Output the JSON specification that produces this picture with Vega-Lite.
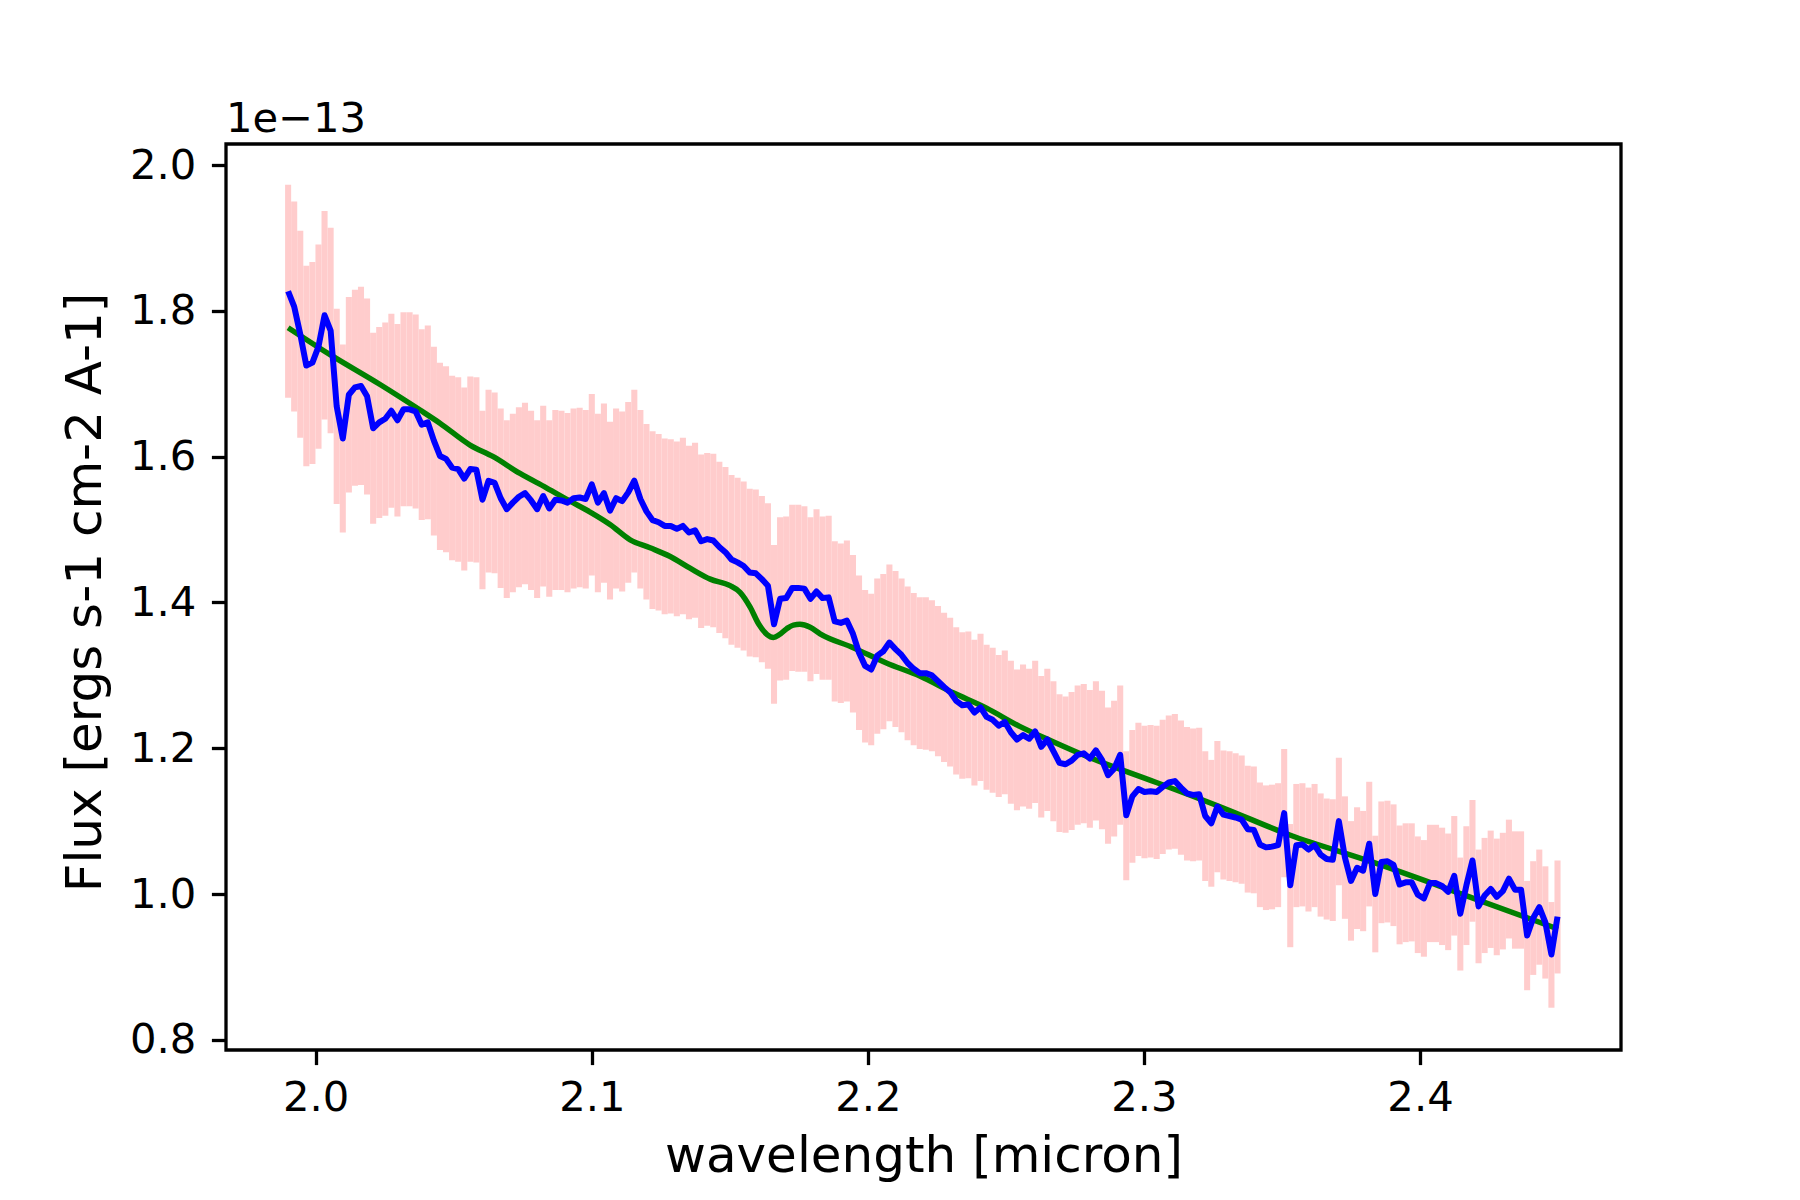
{
"$schema":"https://vega.github.io/schema/vega-lite/v6.json",
"width":1395,"height":906,
"autosize":{"type":"none"},
"padding":{"left":226,"top":144,"right":179,"bottom":150},
"background":"white",
"config":{"view":{"stroke":"black","strokeWidth":3.3},"font":"DejaVu Sans",
"axis":{"domain":false,"grid":false,"tickColor":"black","tickWidth":3.3,"tickSize":14.6,"labelFontSize":41.7,"labelColor":"black","labelFont":"DejaVu Sans","titleFont":"DejaVu Sans","titleFontSize":50,"titleFontWeight":"normal","titleColor":"black"}},
"title":{"text":"1e−13","anchor":"start","frame":"group","fontSize":41.7,"font":"DejaVu Sans","fontWeight":"normal","color":"black","baseline":"alphabetic","offset":13,"dy":43},
"datasets":{
"spec":[
{"w":1.99,"lo":1.681,"hi":1.973,"flux":1.827},{"w":1.9922,"lo":1.662,"hi":1.950,"flux":1.806},{"w":1.9944,"lo":1.626,"hi":1.910,"flux":1.768},{"w":1.9966,"lo":1.587,"hi":1.862,"flux":1.725},{"w":1.9988,"lo":1.590,"hi":1.867,"flux":1.729},{"w":2.001,"lo":1.611,"hi":1.891,"flux":1.751},{"w":2.0032,"lo":1.651,"hi":1.937,"flux":1.794},{"w":2.0054,"lo":1.632,"hi":1.914,"flux":1.773},{"w":2.0076,"lo":1.535,"hi":1.803,"flux":1.669},{"w":2.0098,"lo":1.496,"hi":1.754,"flux":1.625},
{"w":2.012,"lo":1.551,"hi":1.819,"flux":1.685},{"w":2.0142,"lo":1.560,"hi":1.829,"flux":1.695},{"w":2.0164,"lo":1.561,"hi":1.833,"flux":1.697},{"w":2.0186,"lo":1.548,"hi":1.817,"flux":1.683},{"w":2.0208,"lo":1.508,"hi":1.770,"flux":1.639},{"w":2.023,"lo":1.516,"hi":1.778,"flux":1.647},{"w":2.0252,"lo":1.519,"hi":1.784,"flux":1.652},{"w":2.0274,"lo":1.530,"hi":1.796,"flux":1.663},{"w":2.0296,"lo":1.518,"hi":1.782,"flux":1.650},{"w":2.0318,"lo":1.532,"hi":1.798,"flux":1.665},
{"w":2.034,"lo":1.532,"hi":1.798,"flux":1.665},{"w":2.0362,"lo":1.529,"hi":1.795,"flux":1.662},{"w":2.0384,"lo":1.513,"hi":1.775,"flux":1.644},{"w":2.0406,"lo":1.514,"hi":1.780,"flux":1.647},{"w":2.0428,"lo":1.492,"hi":1.751,"flux":1.622},{"w":2.045,"lo":1.472,"hi":1.729,"flux":1.601},{"w":2.0472,"lo":1.469,"hi":1.724,"flux":1.597},{"w":2.0494,"lo":1.458,"hi":1.711,"flux":1.585},{"w":2.0516,"lo":1.456,"hi":1.709,"flux":1.583},{"w":2.0538,"lo":1.444,"hi":1.695,"flux":1.570},
{"w":2.056,"lo":1.456,"hi":1.710,"flux":1.583},{"w":2.0582,"lo":1.455,"hi":1.709,"flux":1.582},{"w":2.0604,"lo":1.418,"hi":1.663,"flux":1.541},{"w":2.0626,"lo":1.441,"hi":1.692,"flux":1.567},{"w":2.0648,"lo":1.440,"hi":1.688,"flux":1.564},{"w":2.067,"lo":1.420,"hi":1.666,"flux":1.543},{"w":2.0692,"lo":1.406,"hi":1.650,"flux":1.528},{"w":2.0714,"lo":1.414,"hi":1.659,"flux":1.537},{"w":2.0736,"lo":1.421,"hi":1.668,"flux":1.545},{"w":2.0758,"lo":1.425,"hi":1.674,"flux":1.550},
{"w":2.078,"lo":1.417,"hi":1.663,"flux":1.540},{"w":2.0802,"lo":1.406,"hi":1.650,"flux":1.528},{"w":2.0824,"lo":1.422,"hi":1.670,"flux":1.546},{"w":2.0846,"lo":1.408,"hi":1.650,"flux":1.529},{"w":2.0868,"lo":1.417,"hi":1.664,"flux":1.541},{"w":2.089,"lo":1.417,"hi":1.663,"flux":1.540},{"w":2.0912,"lo":1.414,"hi":1.660,"flux":1.537},{"w":2.0934,"lo":1.419,"hi":1.666,"flux":1.543},{"w":2.0956,"lo":1.421,"hi":1.667,"flux":1.544},{"w":2.0978,"lo":1.419,"hi":1.664,"flux":1.542},
{"w":2.1,"lo":1.437,"hi":1.686,"flux":1.562},{"w":2.1022,"lo":1.414,"hi":1.659,"flux":1.537},{"w":2.1044,"lo":1.427,"hi":1.673,"flux":1.550},{"w":2.1066,"lo":1.404,"hi":1.648,"flux":1.526},{"w":2.1088,"lo":1.419,"hi":1.666,"flux":1.543},{"w":2.111,"lo":1.415,"hi":1.662,"flux":1.539},{"w":2.1132,"lo":1.427,"hi":1.675,"flux":1.551},{"w":2.1154,"lo":1.441,"hi":1.692,"flux":1.567},{"w":2.1176,"lo":1.419,"hi":1.664,"flux":1.542},{"w":2.1198,"lo":1.404,"hi":1.645,"flux":1.525},
{"w":2.122,"lo":1.391,"hi":1.635,"flux":1.513},{"w":2.1242,"lo":1.389,"hi":1.631,"flux":1.510},{"w":2.1264,"lo":1.384,"hi":1.625,"flux":1.505},{"w":2.1286,"lo":1.385,"hi":1.624,"flux":1.505},{"w":2.1308,"lo":1.381,"hi":1.621,"flux":1.501},{"w":2.133,"lo":1.384,"hi":1.626,"flux":1.505},{"w":2.1352,"lo":1.377,"hi":1.615,"flux":1.496},{"w":2.1374,"lo":1.379,"hi":1.619,"flux":1.499},{"w":2.1396,"lo":1.365,"hi":1.603,"flux":1.484},{"w":2.1418,"lo":1.368,"hi":1.605,"flux":1.487},
{"w":2.144,"lo":1.366,"hi":1.604,"flux":1.485},{"w":2.1462,"lo":1.358,"hi":1.593,"flux":1.476},{"w":2.1484,"lo":1.351,"hi":1.586,"flux":1.469},{"w":2.1506,"lo":1.342,"hi":1.575,"flux":1.459},{"w":2.1528,"lo":1.338,"hi":1.571,"flux":1.455},{"w":2.155,"lo":1.334,"hi":1.566,"flux":1.450},{"w":2.1572,"lo":1.326,"hi":1.556,"flux":1.441},{"w":2.1594,"lo":1.325,"hi":1.555,"flux":1.440},{"w":2.1616,"lo":1.318,"hi":1.546,"flux":1.432},{"w":2.1638,"lo":1.309,"hi":1.536,"flux":1.423},
{"w":2.166,"lo":1.261,"hi":1.479,"flux":1.370},{"w":2.1682,"lo":1.293,"hi":1.517,"flux":1.405},{"w":2.1704,"lo":1.294,"hi":1.518,"flux":1.406},{"w":2.1726,"lo":1.306,"hi":1.534,"flux":1.420},{"w":2.1748,"lo":1.305,"hi":1.534,"flux":1.420},{"w":2.177,"lo":1.305,"hi":1.532,"flux":1.419},{"w":2.1792,"lo":1.292,"hi":1.517,"flux":1.405},{"w":2.1814,"lo":1.302,"hi":1.528,"flux":1.415},{"w":2.1836,"lo":1.294,"hi":1.518,"flux":1.406},{"w":2.1858,"lo":1.294,"hi":1.519,"flux":1.407},
{"w":2.188,"lo":1.264,"hi":1.484,"flux":1.374},{"w":2.1902,"lo":1.262,"hi":1.481,"flux":1.372},{"w":2.1924,"lo":1.264,"hi":1.485,"flux":1.375},{"w":2.1946,"lo":1.249,"hi":1.465,"flux":1.357},{"w":2.1968,"lo":1.225,"hi":1.437,"flux":1.331},{"w":2.199,"lo":1.208,"hi":1.417,"flux":1.313},{"w":2.2012,"lo":1.204,"hi":1.412,"flux":1.308},{"w":2.2034,"lo":1.220,"hi":1.433,"flux":1.327},{"w":2.2056,"lo":1.226,"hi":1.439,"flux":1.333},{"w":2.2078,"lo":1.237,"hi":1.452,"flux":1.345},
{"w":2.21,"lo":1.229,"hi":1.443,"flux":1.336},{"w":2.2122,"lo":1.222,"hi":1.433,"flux":1.328},{"w":2.2144,"lo":1.211,"hi":1.422,"flux":1.317},{"w":2.2166,"lo":1.204,"hi":1.413,"flux":1.309},{"w":2.2188,"lo":1.199,"hi":1.407,"flux":1.303},{"w":2.221,"lo":1.198,"hi":1.407,"flux":1.303},{"w":2.2232,"lo":1.196,"hi":1.403,"flux":1.300},{"w":2.2254,"lo":1.189,"hi":1.395,"flux":1.292},{"w":2.2276,"lo":1.181,"hi":1.386,"flux":1.284},{"w":2.2298,"lo":1.175,"hi":1.379,"flux":1.277},
{"w":2.232,"lo":1.164,"hi":1.366,"flux":1.265},{"w":2.2342,"lo":1.158,"hi":1.359,"flux":1.259},{"w":2.2364,"lo":1.159,"hi":1.360,"flux":1.260},{"w":2.2386,"lo":1.149,"hi":1.349,"flux":1.249},{"w":2.2408,"lo":1.155,"hi":1.357,"flux":1.256},{"w":2.243,"lo":1.143,"hi":1.342,"flux":1.243},{"w":2.2452,"lo":1.139,"hi":1.338,"flux":1.239},{"w":2.2474,"lo":1.133,"hi":1.328,"flux":1.231},{"w":2.2496,"lo":1.137,"hi":1.334,"flux":1.236},{"w":2.2518,"lo":1.124,"hi":1.320,"flux":1.222},
{"w":2.254,"lo":1.115,"hi":1.308,"flux":1.212},{"w":2.2562,"lo":1.120,"hi":1.315,"flux":1.218},{"w":2.2584,"lo":1.117,"hi":1.309,"flux":1.213},{"w":2.2606,"lo":1.125,"hi":1.320,"flux":1.223},{"w":2.2628,"lo":1.105,"hi":1.299,"flux":1.202},{"w":2.265,"lo":1.114,"hi":1.309,"flux":1.212},{"w":2.2672,"lo":1.100,"hi":1.292,"flux":1.196},{"w":2.2694,"lo":1.085,"hi":1.274,"flux":1.180},{"w":2.2716,"lo":1.084,"hi":1.271,"flux":1.178},{"w":2.2738,"lo":1.088,"hi":1.277,"flux":1.183},
{"w":2.276,"lo":1.095,"hi":1.286,"flux":1.191},{"w":2.2782,"lo":1.097,"hi":1.288,"flux":1.193},{"w":2.2804,"lo":1.091,"hi":1.280,"flux":1.186},{"w":2.2826,"lo":1.101,"hi":1.292,"flux":1.197},{"w":2.2848,"lo":1.089,"hi":1.279,"flux":1.184},{"w":2.287,"lo":1.069,"hi":1.256,"flux":1.163},{"w":2.2892,"lo":1.079,"hi":1.265,"flux":1.172},{"w":2.2914,"lo":1.095,"hi":1.286,"flux":1.191},{"w":2.2936,"lo":1.019,"hi":1.196,"flux":1.108},{"w":2.2958,"lo":1.043,"hi":1.225,"flux":1.134},
{"w":2.298,"lo":1.052,"hi":1.235,"flux":1.144},{"w":2.3002,"lo":1.049,"hi":1.231,"flux":1.140},{"w":2.3024,"lo":1.050,"hi":1.232,"flux":1.141},{"w":2.3046,"lo":1.048,"hi":1.231,"flux":1.140},{"w":2.3068,"lo":1.055,"hi":1.239,"flux":1.147},{"w":2.309,"lo":1.061,"hi":1.245,"flux":1.153},{"w":2.3112,"lo":1.062,"hi":1.247,"flux":1.155},{"w":2.3134,"lo":1.054,"hi":1.238,"flux":1.146},{"w":2.3156,"lo":1.046,"hi":1.229,"flux":1.138},{"w":2.3178,"lo":1.045,"hi":1.227,"flux":1.136},
{"w":2.32,"lo":1.046,"hi":1.228,"flux":1.137},{"w":2.3222,"lo":1.018,"hi":1.196,"flux":1.107},{"w":2.3244,"lo":1.010,"hi":1.184,"flux":1.097},{"w":2.3266,"lo":1.030,"hi":1.210,"flux":1.120},{"w":2.3288,"lo":1.020,"hi":1.197,"flux":1.109},{"w":2.331,"lo":1.018,"hi":1.196,"flux":1.107},{"w":2.3332,"lo":1.016,"hi":1.193,"flux":1.105},{"w":2.3354,"lo":1.014,"hi":1.190,"flux":1.102},{"w":2.3376,"lo":1.002,"hi":1.176,"flux":1.089},{"w":2.3398,"lo":1.001,"hi":1.175,"flux":1.088},
{"w":2.342,"lo":0.982,"hi":1.153,"flux":1.068},{"w":2.3442,"lo":0.978,"hi":1.149,"flux":1.064},{"w":2.3464,"lo":0.979,"hi":1.150,"flux":1.065},{"w":2.3486,"lo":0.982,"hi":1.152,"flux":1.067},{"w":2.3508,"lo":1.023,"hi":1.199,"flux":1.111},{"w":2.353,"lo":0.927,"hi":1.096,"flux":1.012},{"w":2.3552,"lo":0.982,"hi":1.151,"flux":1.067},{"w":2.3574,"lo":0.983,"hi":1.152,"flux":1.068},{"w":2.3596,"lo":0.976,"hi":1.146,"flux":1.061},{"w":2.3618,"lo":0.982,"hi":1.151,"flux":1.067},
{"w":2.364,"lo":0.969,"hi":1.138,"flux":1.054},{"w":2.3662,"lo":0.965,"hi":1.131,"flux":1.048},{"w":2.3684,"lo":0.963,"hi":1.130,"flux":1.047},{"w":2.3706,"lo":1.012,"hi":1.187,"flux":1.100},{"w":2.3728,"lo":0.966,"hi":1.134,"flux":1.050},{"w":2.375,"lo":0.936,"hi":1.100,"flux":1.018},{"w":2.3772,"lo":0.952,"hi":1.119,"flux":1.036},{"w":2.3794,"lo":0.949,"hi":1.114,"flux":1.032},{"w":2.3816,"lo":0.983,"hi":1.154,"flux":1.069},{"w":2.3838,"lo":0.920,"hi":1.080,"flux":1.000},
{"w":2.386,"lo":0.960,"hi":1.127,"flux":1.044},{"w":2.3882,"lo":0.961,"hi":1.128,"flux":1.045},{"w":2.3904,"lo":0.956,"hi":1.123,"flux":1.040},{"w":2.3926,"lo":0.931,"hi":1.094,"flux":1.013},{"w":2.3948,"lo":0.934,"hi":1.097,"flux":1.016},{"w":2.397,"lo":0.935,"hi":1.097,"flux":1.016},{"w":2.3992,"lo":0.919,"hi":1.079,"flux":0.999},{"w":2.4014,"lo":0.914,"hi":1.074,"flux":0.994},{"w":2.4036,"lo":0.934,"hi":1.095,"flux":1.015},{"w":2.4058,"lo":0.934,"hi":1.095,"flux":1.015},
{"w":2.408,"lo":0.930,"hi":1.091,"flux":1.011},{"w":2.4102,"lo":0.923,"hi":1.083,"flux":1.003},{"w":2.4124,"lo":0.943,"hi":1.107,"flux":1.025},{"w":2.4146,"lo":0.895,"hi":1.050,"flux":0.973},{"w":2.4168,"lo":0.930,"hi":1.093,"flux":1.012},{"w":2.419,"lo":0.962,"hi":1.129,"flux":1.046},{"w":2.4212,"lo":0.905,"hi":1.061,"flux":0.983},{"w":2.4234,"lo":0.919,"hi":1.077,"flux":0.998},{"w":2.4256,"lo":0.926,"hi":1.087,"flux":1.007},{"w":2.4278,"lo":0.916,"hi":1.076,"flux":0.996},
{"w":2.43,"lo":0.924,"hi":1.084,"flux":1.004},{"w":2.4322,"lo":0.939,"hi":1.102,"flux":1.021},{"w":2.4344,"lo":0.925,"hi":1.086,"flux":1.006},{"w":2.4366,"lo":0.925,"hi":1.086,"flux":1.006},{"w":2.4388,"lo":0.868,"hi":1.018,"flux":0.943},{"w":2.441,"lo":0.889,"hi":1.045,"flux":0.967},{"w":2.4432,"lo":0.903,"hi":1.061,"flux":0.982},{"w":2.4454,"lo":0.884,"hi":1.038,"flux":0.961},{"w":2.4476,"lo":0.844,"hi":0.989,"flux":0.917},{"w":2.4498,"lo":0.891,"hi":1.046,"flux":0.969}
],
"model":[
{"w":1.99,"m":1.777},{"w":2.0052,"m":1.740},{"w":2.0233,"m":1.699},{"w":2.0378,"m":1.664},{"w":2.045,"m":1.646},{"w":2.0559,"m":1.616},{"w":2.0643,"m":1.600},{"w":2.074,"m":1.577},{"w":2.0837,"m":1.557},{"w":2.0921,"m":1.539},{"w":2.0994,"m":1.524},{"w":2.1066,"m":1.507},{"w":2.1139,"m":1.486},{"w":2.1211,"m":1.475},{"w":2.1284,"m":1.463},{"w":2.1356,"m":1.447},{"w":2.1429,"m":1.432},{"w":2.1501,"m":1.423},{"w":2.1537,"m":1.414},{"w":2.1573,"m":1.394},{"w":2.1605,"m":1.370},{"w":2.1635,"m":1.356},{"w":2.1658,"m":1.352},{"w":2.168,"m":1.356},{"w":2.1706,"m":1.364},{"w":2.173,"m":1.369},{"w":2.1754,"m":1.370},{"w":2.1791,"m":1.366},{"w":2.1827,"m":1.357},{"w":2.1947,"m":1.338},{"w":2.2067,"m":1.317},{"w":2.2188,"m":1.299},{"w":2.2309,"m":1.276},{"w":2.243,"m":1.255},{"w":2.255,"m":1.230},{"w":2.2671,"m":1.209},{"w":2.2792,"m":1.189},{"w":2.3045,"m":1.153},{"w":2.3287,"m":1.118},{"w":2.3528,"m":1.081},{"w":2.3818,"m":1.045},{"w":2.4144,"m":1.001},{"w":2.45,"m":0.952}
]},
"layer":[
{"data":{"name":"spec"},"mark":{"type":"rule","color":"#ffcccc","strokeWidth":6.07,"clip":true},
 "encoding":{"x":{"field":"w","type":"quantitative","scale":{"domain":[1.9675,2.4728],"nice":false,"zero":false},
   "axis":{"values":[2.0,2.1,2.2,2.3,2.4],"format":".1f","title":"wavelength [micron]","labelBaseline":"alphabetic","labelPadding":45.4,"titleBaseline":"alphabetic","titleY":121}},
  "y":{"field":"lo","type":"quantitative","scale":{"domain":[0.786,2.029],"nice":false,"zero":false},
   "axis":{"values":[0.8,1.0,1.2,1.4,1.6,1.8,2.0],"format":".1f","title":"Flux [ergs s-1 cm-2 A-1]","labelPadding":15.7,"titleBaseline":"alphabetic","titleX":-126,"titleY":448,"titleAngle":-90,"titleAlign":"center"}},
  "y2":{"field":"hi"}}},
{"data":{"name":"model"},"mark":{"type":"line","color":"#008000","strokeWidth":5.5,"strokeJoin":"round","interpolate":"monotone","clip":true},
 "encoding":{"x":{"field":"w","type":"quantitative"},"y":{"field":"m","type":"quantitative"}}},
{"data":{"name":"spec"},"mark":{"type":"line","color":"#0000ff","strokeWidth":6,"strokeJoin":"round","clip":true},
 "encoding":{"x":{"field":"w","type":"quantitative"},"y":{"field":"flux","type":"quantitative"}}}
]
}
